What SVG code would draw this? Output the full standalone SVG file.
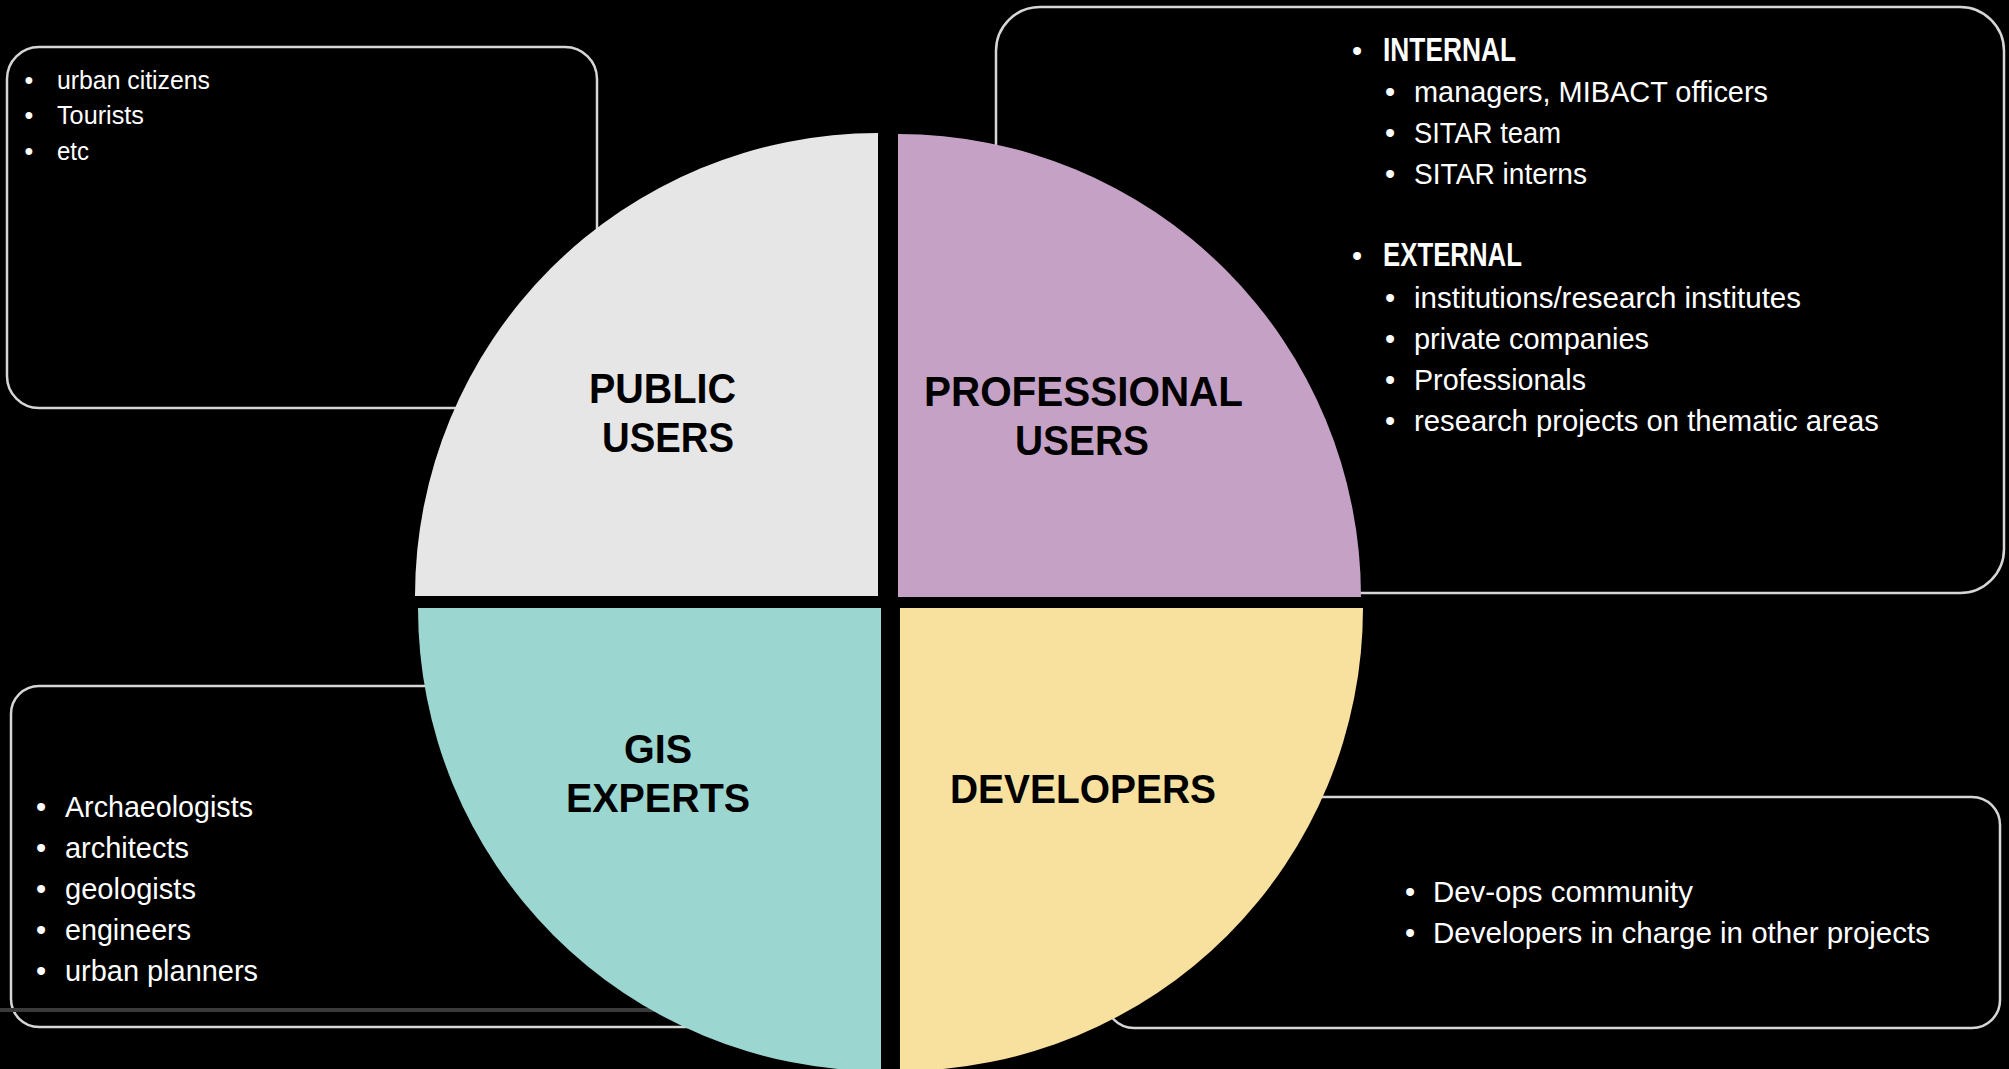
<svg xmlns="http://www.w3.org/2000/svg" width="2009" height="1069" viewBox="0 0 2009 1069">
<style>
.bg{fill:#000}
.box{fill:#000;stroke:#d6d6d6;stroke-width:2.5}
.t{font-family:"Liberation Sans",Arial,sans-serif;fill:#fff;font-size:29px}
.ts{font-family:"Liberation Sans",Arial,sans-serif;fill:#fff;font-size:25px}
.th{font-family:"Liberation Sans",Arial,sans-serif;fill:#fff;font-size:33px;font-weight:bold}
.lbl{font-family:"Liberation Sans",Arial,sans-serif;fill:#000;font-weight:bold}
.l43{font-size:43px}
.l40{font-size:40px}
.bul{text-anchor:middle}
</style>
<rect class="bg" x="0" y="0" width="2009" height="1069"/>

<g id="box-public">
<rect class="box" x="7" y="47" width="590" height="361" rx="32"/>
<text class="ts bul" x="29" y="89">•</text>
<text class="ts" x="57" y="89" textLength="153" lengthAdjust="spacingAndGlyphs">urban citizens</text>
<text class="ts bul" x="29" y="124">•</text>
<text class="ts" x="57" y="124" textLength="87" lengthAdjust="spacingAndGlyphs">Tourists</text>
<text class="ts bul" x="29" y="160">•</text>
<text class="ts" x="57" y="160" textLength="32" lengthAdjust="spacingAndGlyphs">etc</text>
</g>

<g id="box-professional">
<rect class="box" x="996" y="7" width="1008" height="586" rx="44"/>
<text class="t bul" x="1357" y="61">•</text>
<text class="th" x="1383" y="61" textLength="133" lengthAdjust="spacingAndGlyphs">INTERNAL</text>
<text class="t bul" x="1390" y="102">•</text>
<text class="t" x="1414" y="102" textLength="354" lengthAdjust="spacingAndGlyphs">managers, MIBACT officers</text>
<text class="t bul" x="1390" y="143">•</text>
<text class="t" x="1414" y="143" textLength="147" lengthAdjust="spacingAndGlyphs">SITAR team</text>
<text class="t bul" x="1390" y="184">•</text>
<text class="t" x="1414" y="184" textLength="173" lengthAdjust="spacingAndGlyphs">SITAR interns</text>
<text class="t bul" x="1357" y="266">•</text>
<text class="th" x="1383" y="266" textLength="139" lengthAdjust="spacingAndGlyphs">EXTERNAL</text>
<text class="t bul" x="1390" y="308">•</text>
<text class="t" x="1414" y="308" textLength="387" lengthAdjust="spacingAndGlyphs">institutions/research institutes</text>
<text class="t bul" x="1390" y="349">•</text>
<text class="t" x="1414" y="349" textLength="235" lengthAdjust="spacingAndGlyphs">private companies</text>
<text class="t bul" x="1390" y="390">•</text>
<text class="t" x="1414" y="390" textLength="172" lengthAdjust="spacingAndGlyphs">Professionals</text>
<text class="t bul" x="1390" y="431">•</text>
<text class="t" x="1414" y="431" textLength="465" lengthAdjust="spacingAndGlyphs">research projects on thematic areas</text>
</g>

<g id="box-gis">
<rect class="box" x="11" y="686" width="850" height="341" rx="28"/>
<text class="t bul" x="41" y="817">•</text>
<text class="t" x="65" y="817" textLength="188" lengthAdjust="spacingAndGlyphs">Archaeologists</text>
<text class="t bul" x="41" y="858">•</text>
<text class="t" x="65" y="858" textLength="124" lengthAdjust="spacingAndGlyphs">architects</text>
<text class="t bul" x="41" y="899">•</text>
<text class="t" x="65" y="899" textLength="131" lengthAdjust="spacingAndGlyphs">geologists</text>
<text class="t bul" x="41" y="940">•</text>
<text class="t" x="65" y="940" textLength="126" lengthAdjust="spacingAndGlyphs">engineers</text>
<text class="t bul" x="41" y="981">•</text>
<text class="t" x="65" y="981" textLength="193" lengthAdjust="spacingAndGlyphs">urban planners</text>
</g>

<g id="box-developers">
<rect class="box" x="1106" y="797" width="894" height="231" rx="28"/>
<text class="t bul" x="1410" y="902">•</text>
<text class="t" x="1433" y="902" textLength="260" lengthAdjust="spacingAndGlyphs">Dev-ops community</text>
<text class="t bul" x="1410" y="943">•</text>
<text class="t" x="1433" y="943" textLength="497" lengthAdjust="spacingAndGlyphs">Developers in charge in other projects</text>
</g>

<rect x="0" y="1008" width="680" height="4" fill="#3a3a3a"/>

<g id="q-public">
<path d="M878,596 L415,596 A463,463 0 0 1 878,133 Z" fill="#e7e6e6"/>
<text class="lbl l43" x="589" y="403" textLength="147" lengthAdjust="spacingAndGlyphs">PUBLIC</text>
<text class="lbl l43" x="602" y="452" textLength="132" lengthAdjust="spacingAndGlyphs">USERS</text>
</g>

<g id="q-professional">
<path d="M898,597 L898,134 A463,463 0 0 1 1361,597 Z" fill="#c5a2c5"/>
<text class="lbl l43" x="924" y="406" textLength="319" lengthAdjust="spacingAndGlyphs">PROFESSIONAL</text>
<text class="lbl l43" x="1015" y="455" textLength="134" lengthAdjust="spacingAndGlyphs">USERS</text>
</g>

<g id="q-gis">
<path d="M881,608 L881,1071 A463,463 0 0 1 418,608 Z" fill="#9bd6d0"/>
<text class="lbl l40" x="624" y="763" textLength="68" lengthAdjust="spacingAndGlyphs">GIS</text>
<text class="lbl l40" x="566" y="812" textLength="184" lengthAdjust="spacingAndGlyphs">EXPERTS</text>
</g>

<g id="q-developers">
<path d="M900,608 L1363,608 A463,463 0 0 1 900,1071 Z" fill="#f8e09e"/>
<text class="lbl l40" x="950" y="803" textLength="266" lengthAdjust="spacingAndGlyphs">DEVELOPERS</text>
</g>

<g id="connectors"></g>
</svg>
